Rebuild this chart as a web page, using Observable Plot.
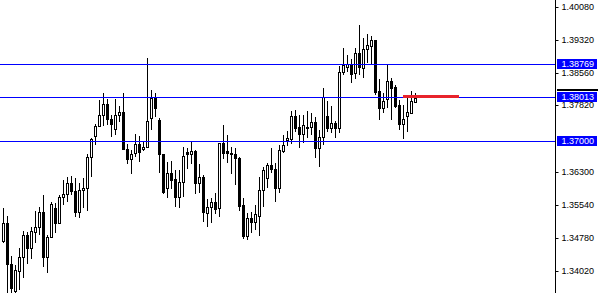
<!DOCTYPE html>
<html>
<head>
<meta charset="utf-8">
<script src="https://cdn.jsdelivr.net/npm/d3@7"></script>
<script src="https://cdn.jsdelivr.net/npm/@observablehq/plot@0.6"></script>
<style>
  html, body { margin: 0; padding: 0; background: #ffffff; }
  #chart svg { display: block; }
</style>
</head>
<body>
<div id="chart"></div>
<script>
// OHLC bars, oldest first
const open = [
  1.34713, 1.35112, 1.34172, 1.33560, 1.34025, 1.34333, 1.34837, 1.34553, 1.34920, 1.35021,
  1.35365, 1.34346, 1.34791, 1.35456, 1.35126, 1.35716, 1.35778, 1.36037, 1.35853, 1.35378,
  1.35869, 1.35915, 1.36640, 1.37122, 1.37351, 1.37590, 1.37842, 1.37512, 1.37268, 1.37590,
  1.37658, 1.36823, 1.36580, 1.36718, 1.36924, 1.36817, 1.36869, 1.37534, 1.37993, 1.37482,
  1.36695, 1.35915, 1.36259, 1.36122, 1.35723, 1.36053, 1.36748, 1.36695, 1.36771, 1.36030,
  1.36181, 1.35342, 1.35493, 1.35594, 1.35456, 1.36947, 1.36771, 1.36732, 1.36695, 1.36603,
  1.35532, 1.34828, 1.35227, 1.35149, 1.35287, 1.35876, 1.36145, 1.36450, 1.36358, 1.35915,
  1.36778, 1.37023, 1.37039, 1.37573, 1.37328, 1.37154, 1.37305, 1.37314, 1.37429, 1.36833,
  1.37085, 1.37573, 1.37305, 1.37406, 1.37305, 1.38576, 1.38704, 1.38766, 1.38553, 1.39025,
  1.38681, 1.39103, 1.39186, 1.39317, 1.38147, 1.37764, 1.37963, 1.38376, 1.38245, 1.37826,
  1.37383, 1.37580, 1.37649, 1.37901
];
const high = [
  1.35456, 1.35280, 1.34362, 1.34156, 1.34539, 1.34936, 1.34920, 1.35021, 1.35388, 1.35493,
  1.35762, 1.34844, 1.35608, 1.35571, 1.35755, 1.36106, 1.36181, 1.36197, 1.36145, 1.36030,
  1.36145, 1.36702, 1.37062, 1.37390, 1.37940, 1.38094, 1.37957, 1.37596, 1.37957, 1.37803,
  1.38094, 1.36924, 1.36794, 1.37161, 1.37115, 1.36984, 1.38897, 1.38170, 1.38094, 1.37521,
  1.36706, 1.36512, 1.36541, 1.36335, 1.36335, 1.36862, 1.36846, 1.36984, 1.36794, 1.36466,
  1.36209, 1.35670, 1.35700, 1.35800, 1.36959, 1.37367, 1.37138, 1.36856, 1.36833, 1.36626,
  1.35686, 1.35342, 1.35365, 1.35525, 1.36181, 1.36411, 1.36502, 1.36833, 1.36489, 1.36908,
  1.37138, 1.37229, 1.37688, 1.37711, 1.37596, 1.37596, 1.37688, 1.37635, 1.37544, 1.37252,
  1.38209, 1.37918, 1.37803, 1.37459, 1.38720, 1.39140, 1.38973, 1.38874, 1.39126, 1.39661,
  1.39356, 1.39454, 1.39408, 1.39328, 1.38415, 1.38094, 1.38743, 1.38438, 1.38284, 1.37940,
  1.37826, 1.38002, 1.38147, 1.38108
];
const low = [
  1.34654, 1.33521, 1.33521, 1.33521, 1.33583, 1.33865, 1.34172, 1.34301, 1.34654, 1.34844,
  1.34117, 1.33966, 1.34768, 1.34883, 1.35112, 1.35532, 1.35608, 1.35762, 1.35250, 1.35227,
  1.35456, 1.35395, 1.36181, 1.36908, 1.37314, 1.37344, 1.37367, 1.37085, 1.37138, 1.37436,
  1.36794, 1.36466, 1.36236, 1.36640, 1.36525, 1.36771, 1.36856, 1.37252, 1.37557, 1.36273,
  1.35784, 1.35686, 1.35899, 1.35493, 1.35456, 1.35709, 1.36351, 1.36466, 1.35784, 1.35800,
  1.35149, 1.35034, 1.35126, 1.35319, 1.35264, 1.36594, 1.36502, 1.36243, 1.35991, 1.35401,
  1.34752, 1.34729, 1.34897, 1.34959, 1.34828, 1.35493, 1.35915, 1.36259, 1.35594, 1.35814,
  1.36718, 1.36885, 1.36931, 1.37213, 1.36833, 1.36947, 1.37062, 1.37138, 1.36603, 1.36411,
  1.36908, 1.37213, 1.37177, 1.37062, 1.37190, 1.38514, 1.38590, 1.38323, 1.38415, 1.38514,
  1.38438, 1.38782, 1.38743, 1.38055, 1.37482, 1.37635, 1.37750, 1.37482, 1.37750, 1.37252,
  1.37039, 1.37213, 1.37635, 1.37879
];
const close = [
  1.35112, 1.34172, 1.33635, 1.34041, 1.34333, 1.34837, 1.34553, 1.34936, 1.35021, 1.35365,
  1.34346, 1.34791, 1.35548, 1.35126, 1.35716, 1.35778, 1.36030, 1.35860, 1.35378, 1.35869,
  1.35915, 1.36640, 1.37039, 1.37351, 1.37590, 1.37842, 1.37505, 1.37390, 1.37590, 1.37658,
  1.36823, 1.36580, 1.36695, 1.36924, 1.36741, 1.36869, 1.37459, 1.37993, 1.37764, 1.36695,
  1.35837, 1.36259, 1.36106, 1.35723, 1.36053, 1.36656, 1.36695, 1.36764, 1.36030, 1.36167,
  1.35378, 1.35493, 1.35594, 1.35440, 1.36947, 1.36732, 1.36718, 1.36695, 1.36603, 1.35516,
  1.34828, 1.35227, 1.35149, 1.35319, 1.35876, 1.36335, 1.36450, 1.36351, 1.35915, 1.36794,
  1.36908, 1.37076, 1.37573, 1.37305, 1.37154, 1.37367, 1.37330, 1.37429, 1.36833, 1.37085,
  1.38002, 1.37305, 1.37406, 1.37305, 1.38590, 1.38743, 1.38766, 1.38537, 1.39025, 1.38704,
  1.39103, 1.39202, 1.39317, 1.38131, 1.37764, 1.37918, 1.38376, 1.38223, 1.37810, 1.37383,
  1.37505, 1.37658, 1.37918, 1.37993
];

// price scale labels and horizontal levels
const priceTicks = [1.40080, 1.39320, 1.38560, 1.37820, 1.36300, 1.35540, 1.34780, 1.34020];
const levels = [1.38769, 1.38013, 1.37000];
const askLevel = 1.38170;
const redLevel = {price: 1.38030, startBar: 100, bars: 14};

const bars = open.map((o, i) => ({i, open: o, high: high[i], low: low[i], close: close[i]}));
const fmt = d => d.toFixed(5);

const chart = Plot.plot({
  width: 599,
  height: 293,
  marginTop: 0,
  marginBottom: 0,
  marginLeft: 0,
  marginRight: 44,
  style: {fontFamily: "'Liberation Sans', Arial, sans-serif", fontSize: "9px", color: "#000", background: "#fff", overflow: "visible"},
  x: {type: "linear", domain: [-0.75, 138], axis: null},
  y: {domain: [1.335138, 1.40234], round: true, axis: null},
  marks: [
    // wicks
    Plot.ruleX(bars, {x: "i", y1: "low", y2: "high", stroke: "#000", strokeWidth: 1}),
    // bodies: hollow for up bars, solid for down bars
    Plot.rect(bars, {
      x1: d => d.i - 0.25,
      x2: d => d.i + 0.25,
      y1: "open",
      y2: "close",
      fill: d => d.close >= d.open ? "#fff" : "#000",
      stroke: "#000",
      strokeWidth: 1,
      dx: 0.5,
      dy: 0.5
    }),
    // horizontal levels
    Plot.ruleY(levels, {stroke: "#0000ff", strokeWidth: 1}),
    Plot.ruleY([redLevel], {
      y: "price",
      x1: d => d.startBar,
      x2: d => d.startBar + d.bars,
      stroke: "#e8232b",
      strokeWidth: 3
    }),
    // price scale
    Plot.ruleX([138], {stroke: "#000"}),
    Plot.axisY(priceTicks, {anchor: "right", tickSize: 2.5, tickPadding: 3.5, tickFormat: fmt, fill: "#000"})
  ]
});

document.getElementById("chart").appendChild(chart);

// price-scale tags for the levels
const yScale = chart.scale("y");
const tags = d3.select(chart).append("g").attr("text-anchor", "start");
{
  const r = Math.round(yScale.apply(askLevel));
  tags.append("rect").attr("x", 557).attr("y", r - 1).attr("width", 41).attr("height", 2).attr("fill", "#000");
}
levels.forEach(v => {
  const r = Math.round(yScale.apply(v));
  tags.append("rect")
    .attr("x", 557).attr("y", r - 5)
    .attr("width", 40).attr("height", 10)
    .attr("fill", "#0000ff");
  tags.append("text")
    .attr("x", 561.5).attr("y", r + 0.5)
    .attr("dy", "0.33em")
    .attr("fill", "#fff")
    .attr("font-size", 9)
    .text(fmt(v));
});
</script>
</body>
</html>
